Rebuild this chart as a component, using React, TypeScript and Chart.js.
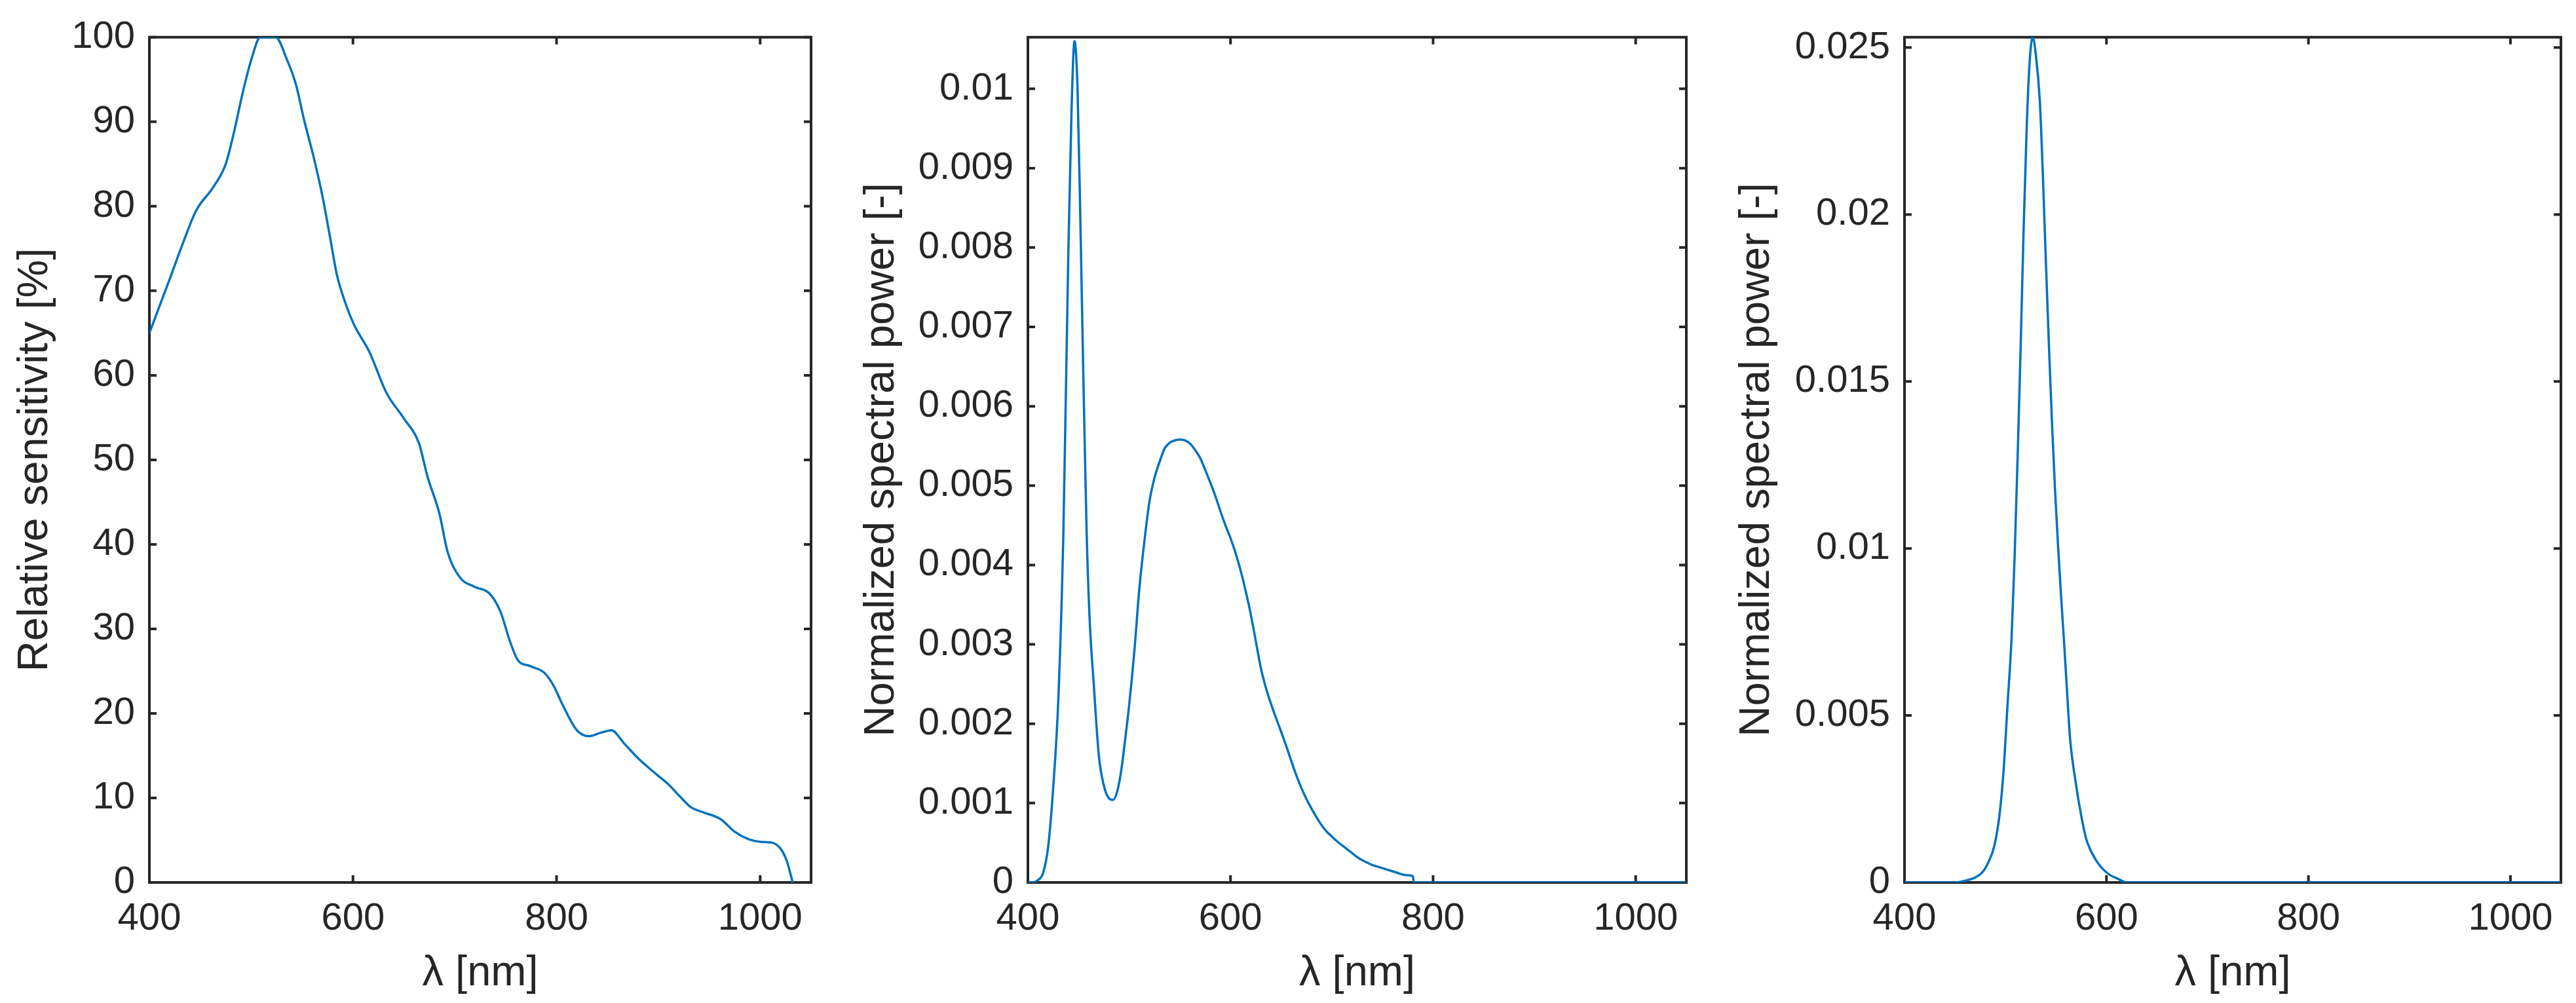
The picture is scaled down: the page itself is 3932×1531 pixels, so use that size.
import React, { useEffect, useRef } from "react";
import { Chart, registerables } from "chart.js";

Chart.register(...registerables);

// ---------- data ----------
const xTicks = [400, 600, 800, 1000];
const xTitle = "λ [nm]";

// Panel 1: relative sensitivity
const wl1 = [400, 410, 420, 431, 446, 463, 475, 483, 492, 501, 509, 516, 524, 535, 544, 552, 561, 570, 578, 584, 593, 601, 616, 633, 650, 665, 673, 685, 693, 705, 719, 734, 745, 754, 762, 774, 788, 797, 806, 820, 832, 843, 854, 866, 880, 898, 909, 921, 932, 944, 961, 975, 989, 1000, 1012, 1020, 1026, 1032];
const sens1 = [65, 68.2, 71.4, 75, 79.5, 82.3, 85, 88.7, 93.6, 97.7, 100, 100, 100, 97.4, 94.4, 90.2, 86, 81.2, 76, 72, 68.4, 66, 62.8, 57.9, 54.9, 51.9, 48.1, 43.6, 39.1, 36.1, 35, 34.2, 32, 28.6, 26.3, 25.6, 24.8, 23.3, 21, 18, 17.3, 17.7, 18, 16.5, 14.7, 12.8, 11.7, 10.2, 8.9, 8.3, 7.5, 6, 5.1, 4.8, 4.7, 4, 2.6, 0];
const y1Ticks = [0, 10, 20, 30, 40, 50, 60, 70, 80, 90, 100];
const y1Title = "Relative sensitivity [%]";

// Panel 2: white LED spectrum
const wl2 = [400, 405, 410, 415, 420, 425, 430, 435, 440, 443, 446, 449, 452, 455, 458, 461, 465, 470, 475, 480, 484, 488, 492, 496, 500, 505, 510, 515, 520, 525, 530, 535, 540, 545, 550, 555, 560, 565, 570, 575, 580, 585, 590, 595, 600, 605, 610, 615, 620, 625, 630, 635, 640, 645, 650, 655, 660, 665, 670, 675, 680, 685, 690, 695, 700, 705, 710, 715, 720, 725, 730, 735, 740, 745, 750, 755, 760, 765, 770, 775, 780, 781, 1050];
const spd2 = [0, 0, 0.00003, 0.00012, 0.00045, 0.0012, 0.0023, 0.0044, 0.008, 0.0097, 0.0106, 0.01, 0.0082, 0.0062, 0.0044, 0.0033, 0.0025, 0.0016, 0.00122, 0.00106, 0.00104, 0.00114, 0.0014, 0.0018, 0.00224, 0.0029, 0.0037, 0.0043, 0.0048, 0.0051, 0.0053, 0.00547, 0.00554, 0.00557, 0.00558, 0.00557, 0.00553, 0.00545, 0.00535, 0.0052, 0.00504, 0.00487, 0.00468, 0.0045, 0.00434, 0.00415, 0.00393, 0.00367, 0.00338, 0.00304, 0.0027, 0.00245, 0.00225, 0.00207, 0.0019, 0.00172, 0.00153, 0.00135, 0.00119, 0.00105, 0.00093, 0.00082, 0.00072, 0.00064, 0.00058, 0.00052, 0.00047, 0.00042, 0.00037, 0.00032, 0.00028, 0.00025, 0.00022, 0.0002, 0.00018, 0.00016, 0.00014, 0.00012, 0.0001, 0.00009, 0.00008, 0, 0];
const y2Ticks = [0, 0.001, 0.002, 0.003, 0.004, 0.005, 0.006, 0.007, 0.008, 0.009, 0.01];
const y2Max = 0.01065;

// Panel 3: green LED spectrum
const wl3 = [400, 450, 460, 470, 477, 483, 489, 494, 498, 502, 506, 509, 512, 515, 518, 521, 524, 527, 530, 534, 537, 540, 543, 546, 549, 552, 555, 558, 561, 564, 569, 575, 580, 589, 600, 612, 620, 1050];
const spd3 = [0, 0, 0.00005, 0.00015, 0.0003, 0.0006, 0.0011, 0.002, 0.0033, 0.0053, 0.0073, 0.0097, 0.0127, 0.016, 0.0196, 0.0226, 0.0246, 0.0253, 0.0248, 0.0234, 0.0212, 0.0186, 0.0161, 0.0138, 0.0118, 0.0101, 0.0086, 0.0072, 0.0057, 0.0043, 0.0031, 0.002, 0.0013, 0.0007, 0.0003, 0.0001, 0, 0];
const y3Ticks = [0, 0.005, 0.01, 0.015, 0.02, 0.025];
const y3Max = 0.02531;

const spdTitle = "Normalized spectral power [-]";

// ---------- style / layout ----------
const FONT = "'Liberation Sans', Arial, Helvetica, sans-serif";
const TEXT = "#262626";
const LINE = "#0072BD";
const CANVAS_H = 1531;
const X_AXIS_H = 184;
const TICK_LEN = 11;

const boxPlugin = {
  id: "matlabBox",
  beforeDatasetsDraw(chart: any) {
    const { ctx, chartArea } = chart;
    const { left, right, top, bottom } = chartArea;
    const xs = chart.scales.x;
    const ys = chart.scales.y;
    ctx.save();
    ctx.strokeStyle = TEXT;
    ctx.lineWidth = 4;
    ctx.lineCap = "square";
    ctx.strokeRect(left, top, right - left, bottom - top);
    ctx.beginPath();
    for (const t of xs.ticks) {
      const px = xs.getPixelForValue(t.value);
      ctx.moveTo(px, bottom);
      ctx.lineTo(px, bottom - TICK_LEN);
      ctx.moveTo(px, top);
      ctx.lineTo(px, top + TICK_LEN);
    }
    for (const t of ys.ticks) {
      const py = ys.getPixelForValue(t.value);
      ctx.moveTo(left, py);
      ctx.lineTo(left + TICK_LEN, py);
      ctx.moveTo(right, py);
      ctx.lineTo(right - TICK_LEN, py);
    }
    ctx.lineCap = "butt";
    ctx.stroke();
    ctx.restore();
  },
};

type PanelProps = {
  xs: number[];
  ys: number[];
  yTicks: number[];
  yMax: number;
  yTitle: string;
  canvasLeft: number;
  yAxisW: number;
  areaRight: number;
  intLabels?: boolean;
};

function Panel(p: PanelProps) {
  const ref = useRef<HTMLCanvasElement | null>(null);
  const width = p.areaRight + 10 - p.canvasLeft;
  useEffect(() => {
    if (!ref.current) return;
    const data = p.xs.map((x, i) => ({ x, y: p.ys[i] }));
    const chart = new Chart(ref.current, {
      type: "line",
      data: {
        datasets: [
          {
            data,
            borderColor: LINE,
            borderWidth: 3.5,
            pointRadius: 0,
            fill: false,
            cubicInterpolationMode: "monotone",
          },
        ],
      },
      plugins: [boxPlugin],
      options: {
        animation: false,
        responsive: false,
        devicePixelRatio: 1,
        layout: { padding: { top: 50, right: 10, left: 0, bottom: 0 } },
        plugins: { legend: { display: false }, tooltip: { enabled: false } },
        scales: {
          x: {
            type: "linear",
            min: 400,
            max: 1050,
            grid: { display: false, drawTicks: false },
            border: { display: false },
            afterBuildTicks: (s: any) => {
              s.ticks = xTicks.map((v) => ({ value: v }));
            },
            afterFit: (s: any) => {
              s.height = X_AXIS_H;
            },
            ticks: {
              padding: 21,
              color: TEXT,
              font: { family: FONT, size: 58 },
              maxRotation: 0,
              autoSkip: false,
              callback: (v: any) => String(v),
            },
            title: {
              display: true,
              text: xTitle,
              color: TEXT,
              font: { family: FONT, size: 65 },
              padding: { top: 0, bottom: 6 },
            },
          },
          y: {
            type: "linear",
            min: 0,
            max: p.yMax,
            grid: { display: false, drawTicks: false },
            border: { display: false },
            afterBuildTicks: (s: any) => {
              s.ticks = p.yTicks.map((v) => ({ value: v }));
            },
            afterFit: (s: any) => {
              s.width = p.yAxisW;
            },
            ticks: {
              padding: 22,
              color: TEXT,
              font: { family: FONT, size: 58 },
              autoSkip: false,
              callback: (v: any) =>
                p.intLabels ? String(Math.round(v)) : String(parseFloat(Number(v).toFixed(4))),
            },
            title: {
              display: true,
              text: p.yTitle,
              color: TEXT,
              font: { family: FONT, size: 65 },
              padding: { top: 15, bottom: 0 },
            },
          },
        },
      },
    } as any);
    return () => chart.destroy();
  }, []);
  return (
    <canvas
      ref={ref}
      width={width}
      height={CANVAS_H}
      style={{
        position: "absolute",
        left: p.canvasLeft,
        top: 0,
        width: width,
        height: CANVAS_H,
      }}
    />
  );
}

export default function App() {
  return (
    <div
      style={{
        position: "absolute",
        left: 0,
        top: 0,
        width: 3932,
        height: CANVAS_H,
        background: "#ffffff",
        overflow: "hidden",
      }}
    >
      <Panel xs={wl1} ys={sens1} yTicks={y1Ticks} yMax={100} yTitle={y1Title} canvasLeft={0} yAxisW={228} areaRight={1238} intLabels />
      <Panel xs={wl2} ys={spd2} yTicks={y2Ticks} yMax={y2Max} yTitle={spdTitle} canvasLeft={1292} yAxisW={277} areaRight={2574} />
      <Panel xs={wl3} ys={spd3} yTicks={y3Ticks} yMax={y3Max} yTitle={spdTitle} canvasLeft={2628} yAxisW={279} areaRight={3909} />
    </div>
  );
}
